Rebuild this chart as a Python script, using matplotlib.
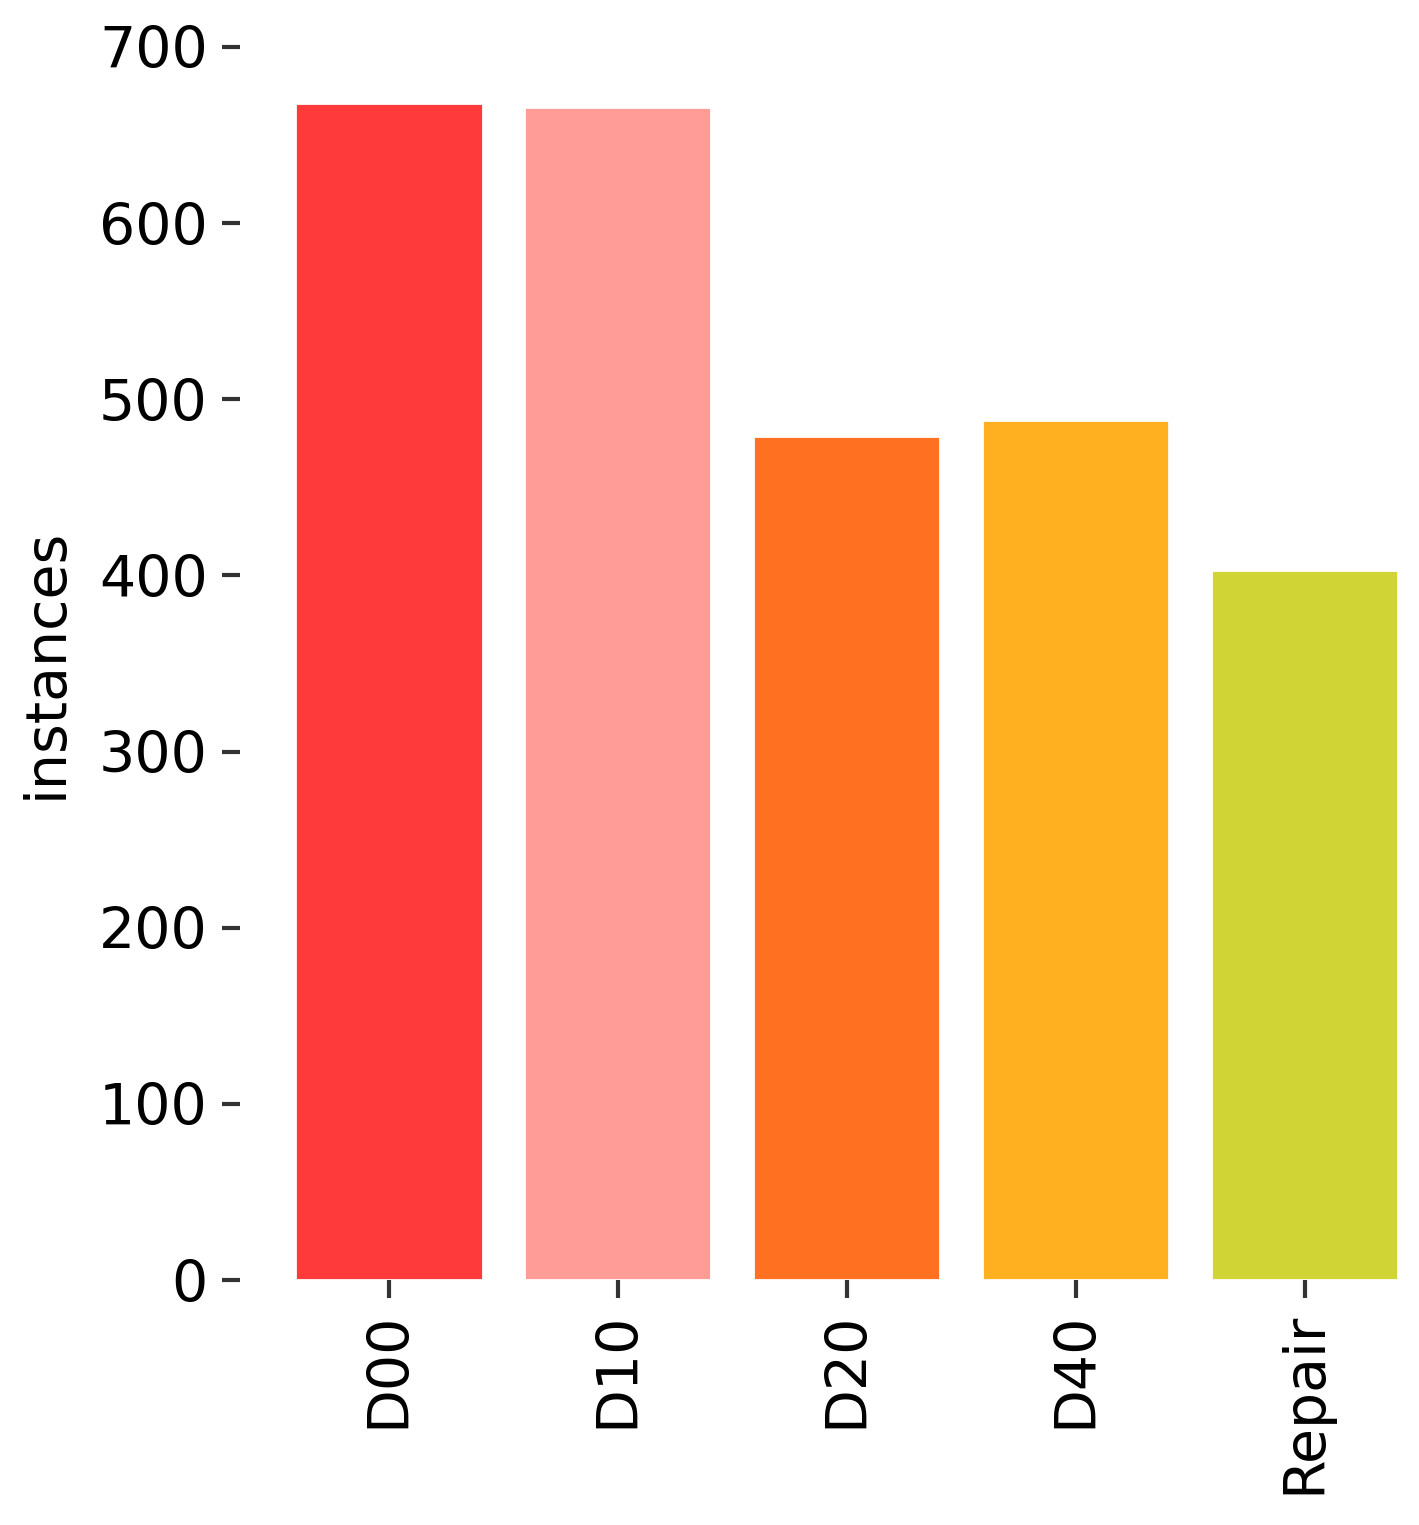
import matplotlib.pyplot as plt

categories = ["D00", "D10", "D20", "D40", "Repair"]
instances = [668, 666, 479, 488, 403]
colors = ["#FF3A3A", "#FF9C98", "#FF7020", "#FFB020", "#D0D435"]

fig = plt.figure(figsize=(14.19, 15.25), dpi=100)
ax = fig.add_axes([0.169, 0.1606, 0.831, 0.8086])

ax.bar(range(len(categories)), instances, width=0.82, color=colors,
       edgecolor="white", linewidth=2)

ax.set_xlim(-0.65, 4.5)
ax.set_ylim(0, 700)
ax.set_yticks(range(0, 701, 100))
ax.set_xticks(range(len(categories)))
ax.set_xticklabels(categories, rotation=90)
ax.set_ylabel("instances", fontsize=41, labelpad=18)

ax.tick_params(axis="both", labelsize=41, length=13, width=3, color="#333333", pad=10)
for s in ax.spines.values():
    s.set_visible(False)

fig.savefig("out.png", dpi=100)
